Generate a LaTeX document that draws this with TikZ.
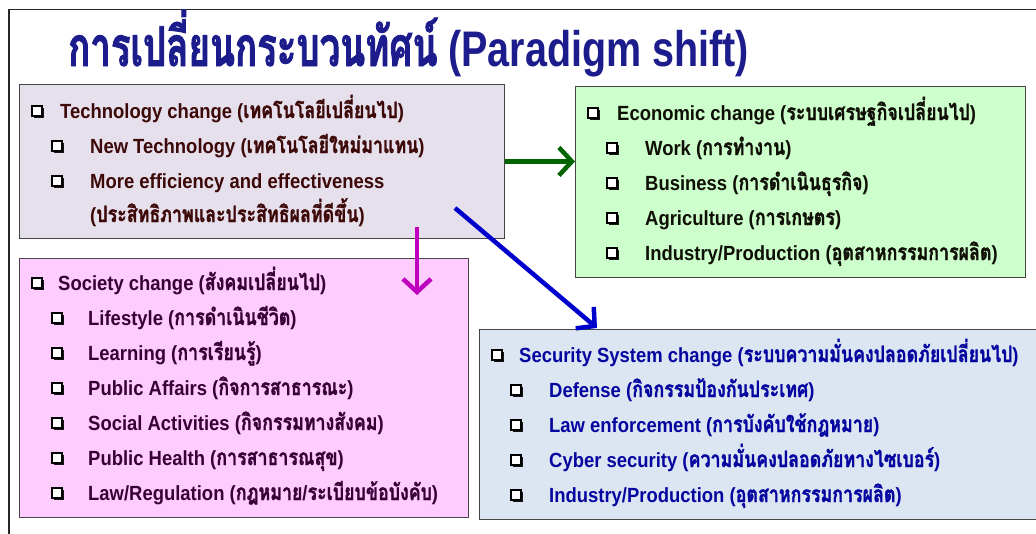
\documentclass[tikz,border=0pt]{standalone}
\usepackage{fontspec}
\setmainfont{Liberation Sans}[FakeStretch=0.9]
\newfontfamily\thaifont[Script=Thai,Scale=1.1,FakeStretch=0.79,FakeBold=1.2]{Loma}
\newfontfamily\thaititle[Script=Thai,Scale=1.1,FakeStretch=0.665,FakeBold=1.5]{Loma}
\newfontfamily\lattitle[FakeStretch=0.79]{Liberation Sans}
\usetikzlibrary{arrows.meta,shadows}
\newcommand\thx[1]{{\thaifont #1}}
\definecolor{titlecol}{RGB}{28,28,140}
\definecolor{techfill}{RGB}{230,224,236}
\definecolor{econfill}{RGB}{204,255,204}
\definecolor{socfill}{RGB}{255,204,255}
\definecolor{secfill}{RGB}{220,230,242}
\definecolor{techtxt}{RGB}{60,8,8}
\definecolor{econtxt}{RGB}{15,15,5}
\definecolor{soctxt}{RGB}{55,0,55}
\definecolor{sectxt}{RGB}{5,5,160}
\definecolor{garrowcol}{RGB}{0,100,0}
\definecolor{marrowcol}{RGB}{190,0,190}
\definecolor{barrowcol}{RGB}{0,0,205}
\definecolor{boxline}{RGB}{70,70,70}
\tikzset{
  box/.style={draw=boxline, line width=0.9pt, anchor=north west, inner sep=0pt},
  txt/.style={anchor=base west, inner sep=0pt, font=\fontsize{20.5}{21}\selectfont\bfseries},
  bul/.style={draw=black, fill=white, line width=1.2pt, minimum size=10pt, inner sep=0pt,
    drop shadow={shadow xshift=2pt, shadow yshift=-2pt, fill=black, opacity=0.9}},
  conn/.style={line width=4.5pt, -{Straight Barb[length=13pt,width=28pt]}},
}
\begin{document}
\begin{tikzpicture}[x=1pt,y=-1pt]
\useasboundingbox (0,0) rectangle (1036,533);
% frame
\draw[line width=1.6pt, black!85] (9,540) -- (9,9.5) -- (1040,9.5);
% title
\node[anchor=base west, inner sep=0pt, text=titlecol, font=\fontsize{50}{52}\selectfont\bfseries] (title) at (68,66)
  {{\thaititle การเปลี่ยนกระบวนทัศน์}\lattitle\ (Paradigm shift)};
% boxes
\node[box, fill=techfill, minimum width=485pt, minimum height=154pt] (tech) at (19,84) {};
\node[box, fill=socfill, minimum width=449pt, minimum height=259pt] (soc) at (19,258) {};
\node[box, fill=econfill, minimum width=450pt, minimum height=191pt] (econ) at (575,86) {};
\node[box, fill=secfill, minimum width=570pt, minimum height=190pt] (sec) at (479,329) {};

% technology
\begin{scope}[every node/.append style={text=techtxt}]
\node[bul] (tb1) at (37,111) {};
\node[txt] (tt1) at (60,118) {Technology change (\thx{เทคโนโลยีเปลี่ยนไป})};
\node[bul] (tb2) at (57,146) {};
\node[txt] (tt2) at (90,153) {New Technology (\thx{เทคโนโลยีใหม่มาแทน})};
\node[bul] (tb3) at (57,181) {};
\node[txt] (tt3) at (90,188) {More efficiency and effectiveness};
\node[txt] (tt4) at (90,222) {(\thx{ประสิทธิภาพและประสิทธิผลที่ดีขึ้น})};
\end{scope}

% economic
\begin{scope}[every node/.append style={text=econtxt}]
\node[bul] (eb1) at (593,113) {};
\node[txt] (et1) at (617,120) {Economic change (\thx{ระบบเศรษฐกิจเปลี่ยนไป})};
\node[bul] (eb2) at (612,148) {};
\node[txt] (et2) at (645,155) {Work (\thx{การทำงาน})};
\node[bul] (eb3) at (612,183) {};
\node[txt] (et3) at (645,190) {Business (\thx{การดำเนินธุรกิจ})};
\node[bul] (eb4) at (612,218) {};
\node[txt] (et4) at (645,225) {Agriculture (\thx{การเกษตร})};
\node[bul] (eb5) at (612,253) {};
\node[txt] (et5) at (645,260) {Industry/Production (\thx{อุตสาหกรรมการผลิต})};
\end{scope}

% society
\begin{scope}[every node/.append style={text=soctxt}]
\node[bul] (sb1) at (37,283) {};
\node[txt] (st1) at (58,290) {Society change (\thx{สังคมเปลี่ยนไป})};
\node[bul] (sb2) at (57,318) {};
\node[txt] (st2) at (88,325) {Lifestyle (\thx{การดำเนินชีวิต})};
\node[bul] (sb3) at (57,353) {};
\node[txt] (st3) at (88,360) {Learning (\thx{การเรียนรู้})};
\node[bul] (sb4) at (57,388) {};
\node[txt] (st4) at (88,395) {Public Affairs (\thx{กิจการสาธารณะ})};
\node[bul] (sb5) at (57,423) {};
\node[txt] (st5) at (88,430) {Social Activities (\thx{กิจกรรมทางสังคม})};
\node[bul] (sb6) at (57,458) {};
\node[txt] (st6) at (88,465) {Public Health (\thx{การสาธารณสุข})};
\node[bul] (sb7) at (57,493) {};
\node[txt] (st7) at (88,500) {Law/Regulation (\thx{กฎหมาย}/\thx{ระเบียบข้อบังคับ})};
\end{scope}

% security
\begin{scope}[every node/.append style={text=sectxt}]
\node[bul] (cb1) at (497,355) {};
\node[txt] (ct1) at (519,362) {Security System change (\thx{ระบบความมั่นคงปลอดภัยเปลี่ยนไป})};
\node[bul] (cb2) at (516,390) {};
\node[txt] (ct2) at (549,397) {Defense (\thx{กิจกรรมป้องกันประเทศ})};
\node[bul] (cb3) at (516,425) {};
\node[txt] (ct3) at (549,432) {Law enforcement (\thx{การบังคับใช้กฎหมาย})};
\node[bul] (cb4) at (516,460) {};
\node[txt] (ct4) at (549,467) {Cyber security (\thx{ความมั่นคงปลอดภัยทางไซเบอร์})};
\node[bul] (cb5) at (516,495) {};
\node[txt] (ct5) at (549,502) {Industry/Production (\thx{อุตสาหกรรมการผลิต})};
\end{scope}

% connectors
\coordinate (m1) at (417,227);
\coordinate (m2) at (417,295);
\coordinate (b1) at (455,208);
\coordinate (b2) at (597,328);
\draw[conn, garrowcol] (tech.east) -- (tech.east -| econ.west);
\draw[conn, marrowcol] (m1) -- (m2);
\draw[conn, barrowcol] (b1) -- (b2);
\end{tikzpicture}
\end{document}
